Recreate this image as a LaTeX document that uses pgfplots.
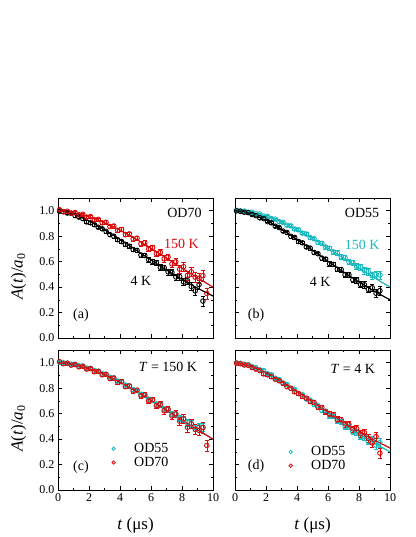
\documentclass[border=0pt]{standalone}
\usepackage{pgfplots}
\pgfplotsset{compat=1.18}
\usepackage{pgfplotstable}
\usepackage{fontspec}
\setmainfont{Liberation Serif}

\definecolor{myred}{RGB}{218,10,10}
\definecolor{mycyan}{RGB}{25,185,190}

% OD70, 150 K
\pgfplotstableread{
t y e
0.1 1.008 0.009
0.35 0.992 0.009
0.6 0.996 0.009
0.85 0.981 0.010
1.1 0.986 0.010
1.35 0.968 0.010
1.6 0.972 0.011
1.85 0.950 0.011
2.1 0.954 0.011
2.35 0.929 0.012
2.6 0.932 0.012
2.85 0.905 0.013
3.1 0.909 0.013
3.35 0.876 0.014
3.6 0.880 0.014
3.85 0.846 0.015
4.1 0.852 0.015
4.35 0.812 0.016
4.6 0.818 0.017
4.85 0.778 0.017
5.1 0.785 0.018
5.35 0.740 0.019
5.6 0.748 0.020
5.85 0.700 0.021
6.1 0.710 0.022
6.35 0.662 0.023
6.6 0.672 0.024
6.85 0.622 0.025
7.1 0.636 0.026
7.35 0.582 0.028
7.6 0.598 0.029
7.85 0.540 0.031
8.1 0.560 0.032
8.35 0.492 0.034
8.6 0.520 0.036
8.85 0.478 0.038
9.1 0.468 0.040
9.35 0.490 0.042
9.6 0.350 0.045
}\odsevhot

% OD70, 4 K
\pgfplotstableread{
t y e
0.1 0.996 0.008
0.35 0.992 0.008
0.6 0.982 0.008
0.85 0.980 0.009
1.1 0.962 0.009
1.35 0.950 0.009
1.6 0.938 0.010
1.85 0.912 0.010
2.1 0.905 0.010
2.35 0.890 0.011
2.6 0.870 0.011
2.85 0.858 0.011
3.1 0.838 0.012
3.35 0.812 0.012
3.6 0.800 0.013
3.85 0.772 0.013
4.1 0.758 0.014
4.35 0.735 0.014
4.6 0.722 0.015
4.85 0.695 0.015
5.1 0.688 0.016
5.35 0.652 0.017
5.6 0.648 0.017
5.85 0.615 0.018
6.1 0.600 0.019
6.35 0.590 0.020
6.6 0.555 0.021
6.85 0.552 0.022
7.1 0.520 0.023
7.35 0.515 0.024
7.6 0.480 0.025
7.85 0.482 0.026
8.1 0.440 0.028
8.35 0.450 0.029
8.6 0.405 0.031
8.85 0.370 0.033
9.1 0.420 0.035
9.35 0.290 0.038
}\odsevcold

% OD55, 150 K
\pgfplotstableread{
t y e
0.1 1.003 0.006
0.35 0.999 0.006
0.6 0.997 0.006
0.85 0.988 0.007
1.1 0.988 0.007
1.35 0.976 0.007
1.6 0.974 0.008
1.85 0.958 0.008
2.1 0.955 0.008
2.35 0.938 0.009
2.6 0.934 0.009
2.85 0.914 0.009
3.1 0.909 0.010
3.35 0.886 0.010
3.6 0.881 0.011
3.85 0.856 0.011
4.1 0.850 0.012
4.35 0.824 0.012
4.6 0.817 0.013
4.85 0.789 0.013
5.1 0.780 0.014
5.35 0.752 0.014
5.6 0.743 0.015
5.85 0.715 0.015
6.1 0.705 0.016
6.35 0.676 0.017
6.6 0.668 0.018
6.85 0.638 0.019
7.1 0.630 0.020
7.35 0.598 0.021
7.6 0.592 0.022
7.85 0.562 0.023
8.1 0.558 0.024
8.35 0.530 0.025
8.6 0.522 0.026
8.85 0.490 0.028
9.1 0.498 0.030
9.35 0.495 0.032
}\odfivhot

% OD55, 4 K
\pgfplotstableread{
t y e
0.1 0.999 0.006
0.35 0.995 0.006
0.6 0.988 0.006
0.85 0.985 0.007
1.1 0.970 0.007
1.35 0.961 0.007
1.6 0.944 0.008
1.85 0.938 0.008
2.1 0.914 0.008
2.35 0.905 0.009
2.6 0.878 0.009
2.85 0.868 0.009
3.1 0.840 0.010
3.35 0.829 0.010
3.6 0.799 0.011
3.85 0.790 0.011
4.1 0.758 0.012
4.35 0.748 0.012
4.6 0.715 0.013
4.85 0.706 0.013
5.1 0.672 0.014
5.35 0.662 0.014
5.6 0.628 0.015
5.85 0.620 0.015
6.1 0.584 0.016
6.35 0.578 0.017
6.6 0.540 0.018
6.85 0.538 0.019
7.1 0.498 0.020
7.35 0.496 0.021
7.6 0.458 0.022
7.85 0.455 0.023
8.1 0.420 0.024
8.35 0.418 0.025
8.6 0.382 0.026
8.85 0.395 0.028
9.1 0.352 0.030
9.35 0.372 0.032
}\odfivcold

% fit curves
\pgfplotstableread{
t sevhot sevcold fivhot fivcold
0 1 1 1 1
0.5 0.994 0.991 0.996 0.994
1 0.984 0.973 0.988 0.979
1.5 0.970 0.948 0.974 0.956
2 0.952 0.919 0.956 0.927
2.5 0.930 0.886 0.935 0.893
3 0.906 0.851 0.910 0.855
3.5 0.878 0.813 0.881 0.815
4 0.847 0.774 0.850 0.775
4.5 0.814 0.734 0.817 0.733
5 0.780 0.694 0.781 0.690
5.5 0.743 0.653 0.744 0.647
6 0.705 0.613 0.706 0.603
6.5 0.667 0.573 0.667 0.561
7 0.628 0.534 0.628 0.519
7.5 0.588 0.497 0.589 0.479
8 0.549 0.460 0.549 0.440
8.5 0.511 0.425 0.511 0.403
9 0.473 0.392 0.473 0.367
9.5 0.436 0.360 0.436 0.333
10 0.400 0.330 0.400 0.300
}\fits

\tikzset{ann/.style={font=\fontsize{14}{17}\selectfont, anchor=center}}

\pgfplotsset{
  panel/.style={
    scale only axis, width=155pt, height=140pt,
    xmin=0, xmax=10, ymin=0, ymax=1.1,
    xtick={0,2,4,6,8,10}, ytick={0,0.2,0.4,0.6,0.8,1.0},
    minor x tick num=1, minor y tick num=1,
    tick align=inside, major tick length=4pt, minor tick length=2.2pt,
    axis line style={line width=0.7pt},
    every tick/.style={line width=0.6pt, black},
    ticklabel style={font=\fontsize{12}{14}\selectfont},
    /pgf/number format/assume math mode=true,
    yticklabel style={/pgf/number format/fixed, /pgf/number format/fixed zerofill, /pgf/number format/precision=1},
    label style={font=\fontsize{17}{20}\selectfont},
    xlabel style={at={(axis description cs:0.5,-0.255)}, anchor=center},
    ylabel style={at={(axis description cs:-0.255,0.44)}, anchor=center},
  },
  dat/.style={only marks, mark=o, mark size=2.3pt, mark options={line width=0.9pt},
    error bars/y dir=both, error bars/y explicit,
    error bars/error bar style={line width=0.6pt}},
  fit/.style={line width=1.2pt, no marks},
  leg/.style={legend style={draw=none, fill=none, anchor=north west, inner xsep=0pt, inner ysep=0pt,
      font=\fontsize{14}{17}\selectfont, row sep=0pt, nodes={inner sep=1.5pt, text=black}},
    legend cell align=left,
    legend image code/.code={\path[draw=none] (-2pt,-2pt) rectangle (19pt,2pt);
      \draw[##1, mark size=1.7pt] plot coordinates {(0pt,0pt)};}},
}

\begin{document}
\begin{tikzpicture}
\useasboundingbox (0pt,0pt) rectangle (415pt,537pt);

% (a)
\begin{axis}[panel, at={(58pt,199pt)}, anchor=south west, xticklabels={},
  ylabel={\textit{A}(\textit{t})/\textit{a}\textsubscript{0}}]
\addplot[black, dat] table[x=t, y=y, y error=e] {\odsevcold};
\addplot[myred, dat] table[x=t, y=y, y error=e] {\odsevhot};
\addplot[black, fit] table[x=t, y=sevcold] {\fits};
\addplot[myred, fit] table[x=t, y=sevhot] {\fits};
\node[ann] at (axis cs:8.16,0.98) {OD70};
\node[ann, text=myred] at (axis cs:7.97,0.74) {150 K};
\node[ann] at (axis cs:5.35,0.45) {4 K};
\node[ann] at (axis cs:1.48,0.18) {(a)};
\end{axis}

% (b)
\begin{axis}[panel, at={(235pt,199pt)}, anchor=south west, xticklabels={}, yticklabels={}]
\addplot[mycyan, dat] table[x=t, y=y, y error=e] {\odfivhot};
\addplot[black, dat] table[x=t, y=y, y error=e] {\odfivcold};
\addplot[mycyan, fit] table[x=t, y=fivhot] {\fits};
\addplot[black, fit] table[x=t, y=fivcold] {\fits};
\node[ann] at (axis cs:8.2,0.98) {OD55};
\node[ann, text=mycyan] at (axis cs:8.2,0.73) {150 K};
\node[ann] at (axis cs:5.5,0.44) {4 K};
\node[ann] at (axis cs:1.36,0.18) {(b)};
\end{axis}

% (c)
\begin{axis}[panel, leg, at={(58pt,47pt)}, anchor=south west,
  legend style={at={(axis cs:3.45,0.38)}},
  xlabel={\textit{t} (μs)},
  ylabel={\textit{A}(\textit{t})/\textit{a}\textsubscript{0}}]
\addlegendimage{only marks, mark=o, mycyan, mark options={line width=0.8pt}}
\addlegendentry{OD55}
\addlegendimage{only marks, mark=o, myred, mark options={line width=0.8pt}}
\addlegendentry{OD70}
\addplot[mycyan, dat, forget plot] table[x=t, y=y, y error=e] {\odfivhot};
\addplot[myred, dat, forget plot] table[x=t, y=y, y error=e] {\odsevhot};
\addplot[mycyan, fit, forget plot] table[x=t, y=fivhot] {\fits};
\addplot[myred, fit, forget plot] table[x=t, y=sevhot] {\fits};
\node[ann] at (axis cs:7.1,0.965) {\textit{T} = 150 K};
\node[ann] at (axis cs:1.48,0.18) {(c)};
\end{axis}

% (d)
\begin{axis}[panel, leg, at={(235pt,47pt)}, anchor=south west, yticklabels={},
  legend style={at={(axis cs:3.45,0.355)}},
  xlabel={\textit{t} (μs)}]
\addlegendimage{only marks, mark=o, mycyan, mark options={line width=0.8pt}}
\addlegendentry{OD55}
\addlegendimage{only marks, mark=o, myred, mark options={line width=0.8pt}}
\addlegendentry{OD70}
\addplot[mycyan, dat, forget plot] table[x=t, y=y, y error=e] {\odfivcold};
\addplot[myred, dat, forget plot] table[x=t, y=y, y error=e] {\odsevcold};
\addplot[mycyan, fit, forget plot] table[x=t, y=fivcold] {\fits};
\addplot[myred, fit, forget plot] table[x=t, y=sevcold] {\fits};
\node[ann] at (axis cs:7.6,0.95) {\textit{T} = 4 K};
\node[ann] at (axis cs:1.36,0.19) {(d)};
\end{axis}
\end{tikzpicture}
\end{document}
